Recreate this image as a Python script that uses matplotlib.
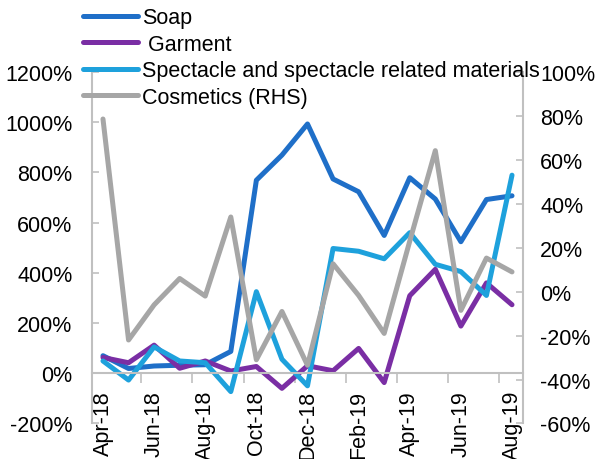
import numpy as np
import matplotlib
matplotlib.use('Agg')
import matplotlib.pyplot as plt
#########################

img_out_plot = "out.png"

months = ['Apr-18', 'May-18', 'Jun-18', 'Jul-18', 'Aug-18', 'Sep-18', 'Oct-18',
          'Nov-18', 'Dec-18', 'Jan-19', 'Feb-19', 'Mar-19', 'Apr-19', 'May-19',
          'Jun-19', 'Jul-19', 'Aug-19']
soap = [70, 19, 29, 32, 34, 87, 769, 869, 993, 774, 723, 549, 779, 694, 524, 692, 707]
garment = [63, 42, 112, 20, 49, 9, 27, -60, 30, 10, 99, -37, 309, 414, 188, 360, 273]
spectacle = [49, -27, 105, 49, 42, -73, 325, 56, -50, 497, 486, 456, 560, 434, 405, 310, 789]
cosmetics = [78.6, -22, -6, 6, -2, 34, -31, -9, -33.5, 12.7, -1.7, -19, 23, 64.2, -8.5, 15.3, 9]
#########################

plt.rcParams['font.family'] = ['Liberation Sans', 'DejaVu Sans']
GRID = '#c0c0c0'
FS = 15.5


def plot_all():
	fig = plt.figure(figsize=(5.95, 4.6), dpi=100)
	ax = fig.add_axes([0.1546, 0.0772, 0.7244, 0.7641])
	ax2 = ax.twinx()

	# spine positions first, set_position resets the ticks
	for s in ['top', 'right']:
		ax.spines[s].set_visible(False)
	for s in ['top', 'left', 'bottom']:
		ax2.spines[s].set_visible(False)
	ax.spines['bottom'].set_position(('data', 0))
	for sp in [ax.spines['left'], ax.spines['bottom'], ax2.spines['right']]:
		sp.set_color(GRID)
		sp.set_linewidth(1.5)

	x = np.arange(len(months))
	kw = dict(lw=3.6, solid_capstyle='round', solid_joinstyle='round')
	l1, = ax.plot(x, soap, color='#1f6fc8', label='Soap', **kw)
	l2, = ax.plot(x, garment, color='#7a2ea4', label=' Garment', **kw)
	l3, = ax.plot(x, spectacle, color='#1ea1dc', label='Spectacle and spectacle related materials', **kw)
	l4, = ax2.plot(x, cosmetics, color='#a6a6a6', label='Cosmetics (RHS)', **kw)

	ax.set_xlim(-0.43, 16.43)
	ax.set_ylim(-200, 1200)
	ax2.set_ylim(-60, 100)

	lt = np.arange(-200, 1201, 200)
	ax.set_yticks(lt)
	ax.set_yticklabels(['%d%%' % v for v in lt])
	rt = np.arange(-60, 101, 20)
	ax2.set_yticks(rt)
	ax2.set_yticklabels(['%d%%' % v for v in rt])

	ax.set_xticks(x[::2])
	ax.set_xticklabels(months[::2], rotation=90)
	ax.set_xticks(np.arange(1.5, 16, 2), minor=True)

	ax.tick_params(axis='y', direction='in', length=5, width=1.2, color=GRID, pad=14, labelsize=FS)
	ax2.tick_params(axis='y', direction='in', length=5, width=1.2, color=GRID, pad=12.5, labelsize=FS)
	ax.tick_params(axis='x', which='major', length=0, pad=12, labelsize=FS)
	ax.tick_params(axis='x', which='minor', direction='out', length=7, width=1.2, color=GRID)

	fig.legend([l1, l2, l3, l4], [l.get_label() for l in [l1, l2, l3, l4]],
		loc='upper left', bbox_to_anchor=(0.121, 1.005), frameon=False,
		fontsize=FS, borderpad=0, handlelength=2.55, handletextpad=0.2,
		labelspacing=0.25)

	plt.savefig(img_out_plot, format='png', dpi=100)


def main():
	plot_all()

main()
